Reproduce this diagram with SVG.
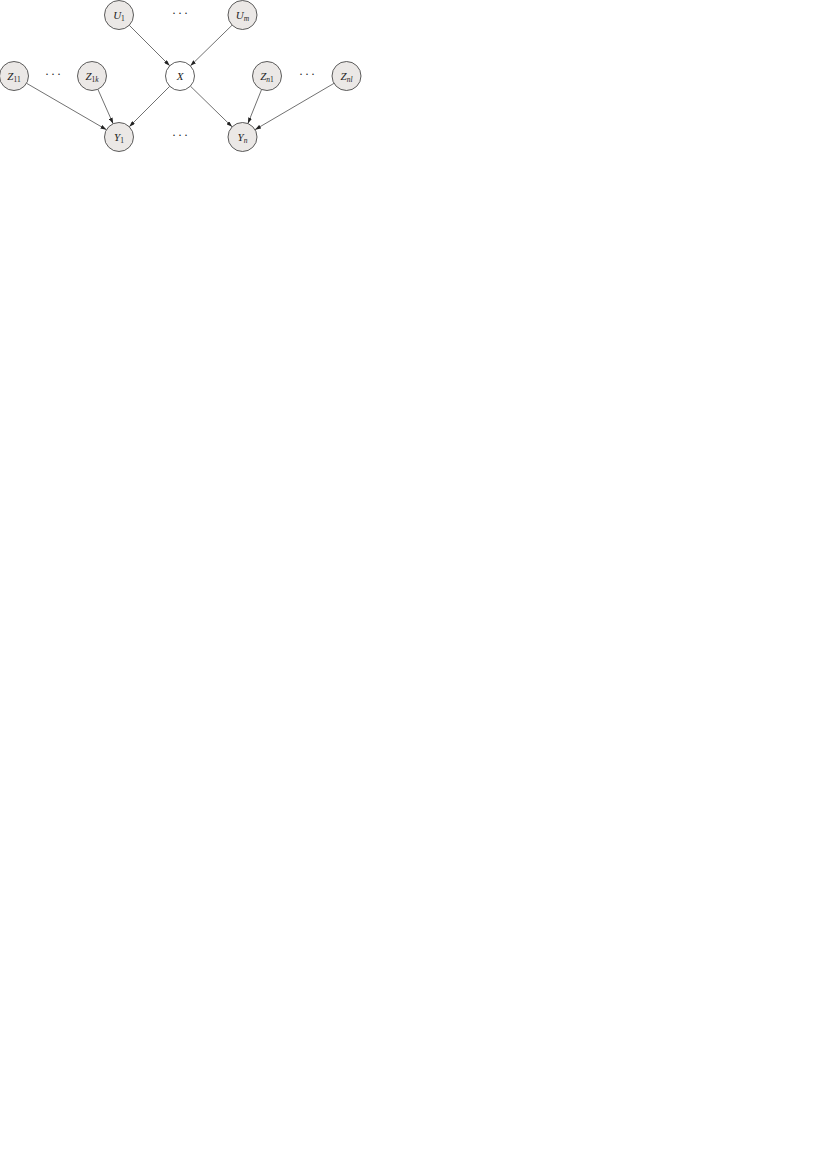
<svg xmlns="http://www.w3.org/2000/svg" width="827" height="1170" viewBox="0 0 827 1170">
<defs>
<style>
.node{fill:#ebe8e6;stroke:#333;stroke-width:0.8}
.obs{fill:#ffffff;stroke:#333;stroke-width:0.8}
.lbl{font-family:"Liberation Serif",serif;font-style:italic;font-size:11px;fill:#222;text-anchor:middle}
.sub{font-size:7.5px;font-style:normal}
.subi{font-size:7.5px;font-style:italic}
.dots{font-family:"Liberation Serif",serif;font-size:12px;fill:#222;text-anchor:middle;letter-spacing:2px}
.edge{stroke:#333;stroke-width:0.7;fill:none;marker-end:url(#arr)}
</style>
<marker id="arr" viewBox="0 0 6 4" refX="6" refY="2" markerWidth="6" markerHeight="4" markerUnits="userSpaceOnUse" orient="auto">
<path d="M0,0 L6,2 L0,4 Z" fill="#222"/>
</marker>
</defs>
<rect width="827" height="1170" fill="#ffffff"/>
<g id="connectors">
<line class="edge" x1="129.25" y1="25.25" x2="169.75" y2="65.75"/>
<line class="edge" x1="232.12" y1="25.13" x2="190.38" y2="65.87"/>
<line class="edge" x1="169.75" y1="86.25" x2="129.25" y2="126.75"/>
<line class="edge" x1="190.38" y1="86.13" x2="232.12" y2="126.87"/>
<line class="edge" x1="26.54" y1="83.28" x2="106.46" y2="129.72"/>
<line class="edge" x1="97.87" y1="89.26" x2="113.13" y2="123.74"/>
<line class="edge" x1="261.6" y1="89.45" x2="247.9" y2="123.55"/>
<line class="edge" x1="334.0" y1="83.34" x2="255.0" y2="129.66"/>
</g>
<g id="U1"><circle class="node" cx="119" cy="15" r="14.5"/><text class="lbl" x="119" y="19">U<tspan class="sub" dy="2">1</tspan></text></g>
<g id="Um"><circle class="node" cx="242.5" cy="15" r="14.5"/><text class="lbl" x="242.5" y="19">U<tspan class="subi" dy="2">m</tspan></text></g>
<g id="X"><circle class="obs" cx="180" cy="76" r="14.5"/><text class="lbl" x="180" y="80">X</text></g>
<g id="Z11"><circle class="node" cx="14" cy="76" r="14.5"/><text class="lbl" x="14" y="80">Z<tspan class="sub" dy="2">11</tspan></text></g>
<g id="Z1k"><circle class="node" cx="92" cy="76" r="14.5"/><text class="lbl" x="92" y="80">Z<tspan class="sub" dy="2">1</tspan><tspan class="subi">k</tspan></text></g>
<g id="Zn1"><circle class="node" cx="267" cy="76" r="14.5"/><text class="lbl" x="267" y="80">Z<tspan class="subi" dy="2">n</tspan><tspan class="sub">1</tspan></text></g>
<g id="Znl"><circle class="node" cx="346.5" cy="76" r="14.5"/><text class="lbl" x="346.5" y="80">Z<tspan class="subi" dy="2">nl</tspan></text></g>
<g id="Y1"><circle class="node" cx="119" cy="137" r="14.5"/><text class="lbl" x="119" y="141">Y<tspan class="sub" dy="2">1</tspan></text></g>
<g id="Yn"><circle class="node" cx="242.5" cy="137" r="14.5"/><text class="lbl" x="242.5" y="141">Y<tspan class="subi" dy="2">n</tspan></text></g>
<g id="dots">
<text class="dots" x="181" y="17">···</text>
<text class="dots" x="54" y="78">···</text>
<text class="dots" x="308" y="78">···</text>
<text class="dots" x="181" y="139">···</text>
</g>
</svg>
